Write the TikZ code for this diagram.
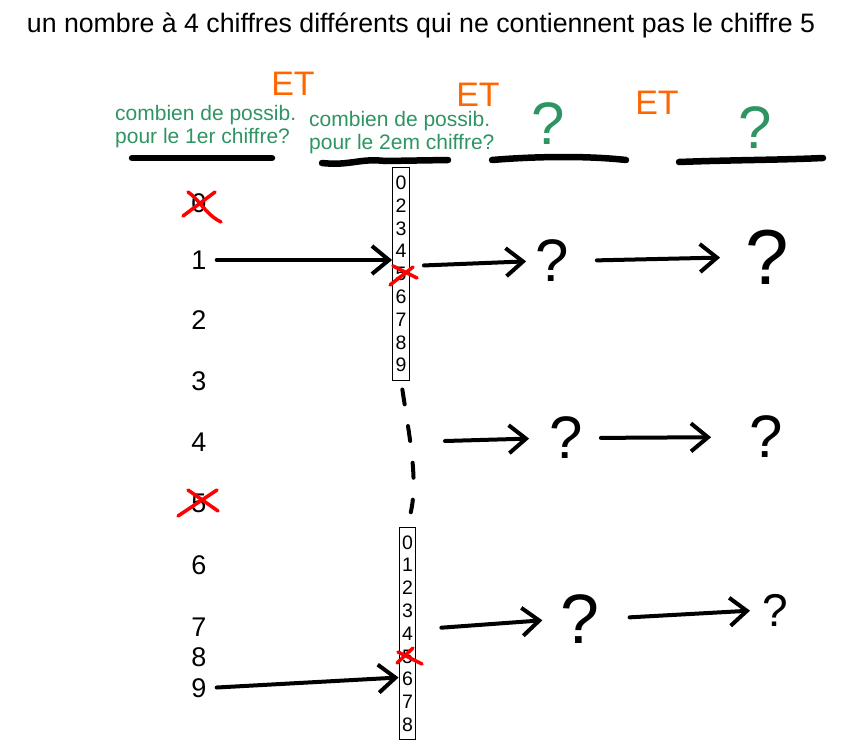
\documentclass[tikz,border=0pt]{standalone}
\usepackage{fontspec}
\setmainfont{Liberation Sans}
\usepackage{tikz}
\usetikzlibrary{arrows.meta,calc}
\definecolor{inkmain}{HTML}{000000}
\definecolor{greenask}{HTML}{2E9462}
\definecolor{orangeet}{HTML}{FF6600}
\definecolor{redcross}{HTML}{FF0000}
\tikzset{every node/.append style={font=\rmfamily}}
\tikzset{
  pen/.style={inkmain,line width=4pt,line cap=round,line join=round},
  fatpen/.style={inkmain,line width=6.5pt,line cap=round},
  cross/.style={redcross,line width=3.5pt,line cap=round},
  digit/.style={inner sep=1pt,font=\fontsize{27}{27}\selectfont},
  column/.style={draw,line width=1pt,align=center,inner xsep=3pt,inner ysep=8pt,
    font=\fontsize{19.5}{22.8}\selectfont},
  qmark/.style={inner sep=0pt,font=\fontsize{#1}{#1}\selectfont},
  qmark/.default=60,
  etmark/.style={orangeet,inner sep=0pt,font=\fontsize{34}{34}\selectfont},
  askbox/.style={greenask,align=left,inner sep=0pt,font=\fontsize{21}{23}\selectfont},
}

\begin{document}
\begin{tikzpicture}[x=1pt,y=-1pt,>={Straight Barb[length=17pt,width=28pt]}]
  \useasboundingbox (0,0) rectangle (861,742);
  \node (title) at (421,25) {\fontsize{26.7}{30}\selectfont un nombre à 4 chiffres différents qui ne contiennent pas le chiffre 5};

  \node[askbox,anchor=north west] (ask1) at (115,105) {combien de possib.\\pour le 1er chiffre?};
  \node[askbox,anchor=north west] (ask2) at (309,111) {combien de possib.\\pour le 2em chiffre?};
  \node[etmark] (et1) at (293,84) {ET};
  \node[etmark] (et2) at (478,95) {ET};
  \node[etmark] (et3) at (657,103) {ET};
  \node[qmark,greenask] (qa) at (548,124) {?};
  \node[qmark,greenask] (qb) at (755,128) {?};

  \draw[fatpen] (132,158) -- (272,158);
  \draw[fatpen] (322,163) .. controls (350,166) and (360,158) .. (385,161) -- (448,160);
  \draw[fatpen] (492,160) .. controls (540,156) and (590,156) .. (626,160);
  \draw[fatpen] (679,162) .. controls (730,160) and (780,160) .. (823,158);

  \foreach \d/\y in {0/203,1/260,2/320,3/381,4/442,5/503,6/565,7/627,8/657,9/688}
    \node[digit] (d\d) at (199,\y) {\d};

  \node[column] (colA) at (401,274) {0\\2\\3\\4\\5\\6\\7\\8\\9};
  \node[column] (colB) at (407.5,633.5) {0\\1\\2\\3\\4\\5\\6\\7\\8};

  \node[qmark] (q1) at (552,261) {?};
  \node[qmark=78] (q2) at (767,257) {?};
  \node[qmark] (q3) at (566,438) {?};
  \node[qmark] (q4) at (766,437) {?};
  \node[qmark=70] (q5) at (580,619) {?};
  \node[qmark=46] (q6) at (775,610) {?};
  \coordinate (gap) at (445,441);

  \draw[pen,->,shorten <=9pt] (d1.east) -- (d1.east -| colA.west);
  \draw[pen,->,shorten <=14pt,shorten >=9pt] ([yshift=8pt]colA.east) -- (q1.west);
  \draw[pen,->,shorten <=28pt,shorten >=25pt] (q1.east) -- (q2.west);
  \draw[pen,->,shorten >=20pt] (gap) -- (q3.west);
  \draw[pen,->,shorten <=18pt,shorten >=38pt] (q3.east) -- (q4.west);
  \draw[pen,->,shorten <=9pt] (d9.east) -- ([yshift=-44pt]colB.west);
  \draw[pen,->,shorten <=25pt,shorten >=18pt] ([yshift=4pt]colB.east) -- (q5.west);
  \draw[pen,->,shorten <=30pt,shorten >=12pt] (q5.east) -- (q6.west);
  \draw[pen,dash pattern=on 15pt off 22pt,shorten <=9pt,shorten >=15pt]
    (colA.south) .. controls (410,440) and (418,480) .. (colB.north);

  \draw[cross] (183,216) -- (215,192);
  \draw[cross] (188,192) .. controls (200,200) and (205,214) .. (221,222);
  \draw[cross] (390,285) -- (413,267);
  \draw[cross] (393,266) -- (417,278);
  \draw[cross] (178,516) -- (217,490);
  \draw[cross] (188,490) -- (218,511);
  \draw[cross] (397,663) -- (413,648);
  \draw[cross] (398,652) -- (422,664);
\end{tikzpicture}
\end{document}
